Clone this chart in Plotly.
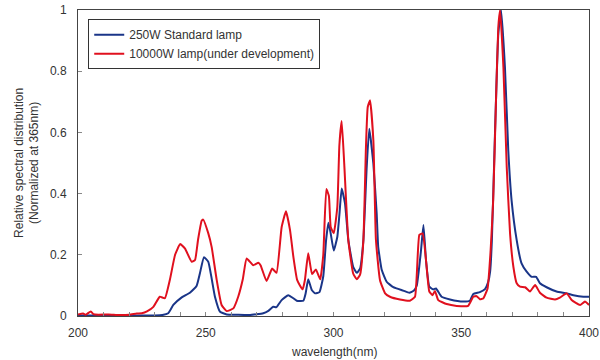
import plotly.graph_objects as go

# 10000W lamp (under development)
red_x = [200, 202, 203, 205, 206, 208, 212, 216, 220, 223, 225, 227, 229.5, 232, 234, 236, 238, 240,
         241.9, 244.5, 245.8, 247, 248.4, 249, 251, 252.3, 254.3, 256.2, 258.2, 260.8, 262.7, 264.5,
         266, 268.6, 270.6, 271.5, 273.8, 276, 277.7, 279.7, 281.4, 283, 284.3, 285.8, 287.9, 288.8,
         290.1, 291.6, 293.1, 294.8, 296, 297.2, 298.2, 298.9, 300.1, 301.5, 302.3, 303.2, 304.2,
         305.8, 307.7, 309.1, 310.4, 311.7, 312.7, 313.4, 314.3, 315.6, 316.6, 318.2, 320.2, 322.1,
         326, 329.9, 331.9, 333.6, 334.9, 336.2, 337.5, 338.8, 339.7, 341, 344.3, 348.2, 352.7,
         354.7, 356, 357.3, 358.6, 360.3, 361.5, 362.5, 363.6, 364.5, 365.2, 366.5, 367.8, 369.1,
         370.4, 371.7, 373, 375, 376.9, 378.9, 380.8, 383.4, 386.7, 388.6, 391.3, 393.2, 396.5,
         398.4, 400]
red_y = [0.005, 0.008, 0.004, 0.015, 0.006, 0.004, 0.005, 0.003, 0.004, 0.008, 0.009, 0.015, 0.03,
         0.063, 0.058, 0.12, 0.2, 0.235, 0.22, 0.177, 0.183, 0.25, 0.311, 0.315, 0.27, 0.226, 0.117,
         0.036, 0.016, 0.025, 0.063, 0.12, 0.188, 0.166, 0.174, 0.165, 0.114, 0.155, 0.141, 0.29,
         0.342, 0.28, 0.193, 0.117, 0.087, 0.117, 0.205, 0.137, 0.152, 0.12, 0.2, 0.415, 0.392,
         0.291, 0.27, 0.357, 0.558, 0.637, 0.498, 0.248, 0.139, 0.12, 0.135, 0.248, 0.552, 0.683,
         0.705, 0.574, 0.25, 0.117, 0.074, 0.063, 0.054, 0.05, 0.063, 0.265, 0.27, 0.183, 0.08,
         0.068, 0.082, 0.052, 0.039, 0.033, 0.033, 0.063, 0.065, 0.055, 0.057, 0.09, 0.215, 0.378,
         0.705, 0.944, 1.0, 0.813, 0.487, 0.27, 0.161, 0.107, 0.096, 0.094, 0.08, 0.101, 0.076,
         0.06, 0.054, 0.06, 0.074, 0.052, 0.036, 0.047, 0.036]

# 250W standard lamp
blue_x = [200, 210, 220, 230, 233, 235.3, 237.3, 240.6, 243.8, 246.4, 247.7, 249.3, 251, 252.3,
          253.6, 255.6, 258.2, 262, 267, 272.5, 274.5, 276.4, 277.7, 279.7, 282.3, 284.3, 285.6,
          288.2, 289.1, 290.1, 291.5, 292.8, 294.5, 296, 297.1, 298, 298.9, 300.1, 301.5, 302.3,
          303.2, 304.5, 305.8, 307.7, 309.1, 310.4, 311.7, 313, 314, 315.6, 316.9, 317.5, 318.9,
          320.8, 323.4, 327.3, 329.7, 331.5, 332.6, 334.2, 335.2, 336.2, 337.5, 339, 340.1, 342.3,
          345.6, 350.8, 353.4, 354.7, 357.3, 359.3, 360.5, 361.3, 362, 363.2, 364.5, 365.6, 367.1,
          368.4, 369.7, 371.7, 373.6, 375.6, 377.6, 379.3, 380.8, 383.4, 387.3, 391.3, 393.9,
          397.8, 400]
blue_y = [0.002, 0.002, 0.001, 0.002, 0.003, 0.009, 0.036, 0.061, 0.076, 0.098, 0.139, 0.192,
          0.177, 0.123, 0.063, 0.014, 0.005, 0.004, 0.003, 0.009, 0.017, 0.03, 0.029, 0.052, 0.068,
          0.058, 0.05, 0.05, 0.074, 0.12, 0.085, 0.074, 0.078, 0.13, 0.248, 0.305, 0.27, 0.214,
          0.259, 0.33, 0.417, 0.368, 0.248, 0.161, 0.141, 0.155, 0.248, 0.487, 0.612, 0.498, 0.335,
          0.226, 0.15, 0.112, 0.094, 0.083, 0.076, 0.083, 0.1, 0.21, 0.297, 0.183, 0.096, 0.087,
          0.09, 0.063, 0.054, 0.047, 0.05, 0.072, 0.078, 0.088, 0.11, 0.145, 0.25, 0.596, 0.922,
          1.0, 0.813, 0.542, 0.378, 0.248, 0.172, 0.145, 0.128, 0.128, 0.107, 0.094, 0.08, 0.074,
          0.068, 0.063, 0.063]

x_tickvals = [200, 250, 300, 350, 400]
y_tickvals = [0, 0.2, 0.4, 0.6, 0.8, 1]
y_ticktext = ["0", "0.2", "0.4", "0.6", "0.8", "1"]

FONT = "Liberation Sans, Arial, Helvetica, sans-serif"

fig = go.Figure()
fig.add_trace(go.Scatter(x=blue_x, y=blue_y, mode="lines", name="250W Standard lamp",
                         line=dict(color="#1a3588", width=2, shape="spline", smoothing=0.4)))
fig.add_trace(go.Scatter(x=red_x, y=red_y, mode="lines", name="10000W lamp(under development)",
                         line=dict(color="#e0101e", width=2, shape="spline", smoothing=0.4)))

fig.update_layout(
    width=600, height=360,
    margin=dict(l=78, r=11, t=10, b=44, autoexpand=False),
    paper_bgcolor="white", plot_bgcolor="white",
    font=dict(family=FONT, size=12, color="#333333"),
    showlegend=True,
    legend=dict(x=0.02, y=0.97, xanchor="left", yanchor="top",
                bordercolor="#333333", borderwidth=1, bgcolor="white",
                font=dict(size=12, color="#333333"), tracegroupgap=0,
                itemwidth=30),
    xaxis=dict(range=[200, 400], tickvals=x_tickvals, ticks="inside", ticklen=4,
               tickcolor="#888888", showline=True, linecolor="#444444", linewidth=1,
               mirror=True, showgrid=False, zeroline=False, automargin=False,
               ticklabelstandoff=6,
               minor=dict(dtick=10, ticks="inside", ticklen=4, tickcolor="#888888", showgrid=False),
               tickfont=dict(size=12)),
    yaxis=dict(range=[0, 1], tickvals=y_tickvals, ticktext=y_ticktext, ticks="inside",
               ticklen=4, tickcolor="#888888", showline=True, linecolor="#444444",
               linewidth=1, mirror=True, showgrid=False, zeroline=False, automargin=False,
               ticklabelstandoff=8,
               tickfont=dict(size=12)),
    annotations=[
        dict(text="Relative spectral distribution<br>(Normalized at 365nm)", textangle=-90,
             xref="paper", yref="paper", x=-0.1, y=0.5, xanchor="center", yanchor="middle",
             showarrow=False, font=dict(size=12, color="#333333")),
        dict(text="wavelength(nm)", xref="paper", yref="paper", x=0.5, y=-0.118,
             xanchor="center", yanchor="middle", showarrow=False,
             font=dict(size=12, color="#333333")),
    ],
)

fig.write_html("out.html", config={"displayModeBar": False},
               post_script="document.body.style.margin='0';document.body.style.overflow='hidden';")
